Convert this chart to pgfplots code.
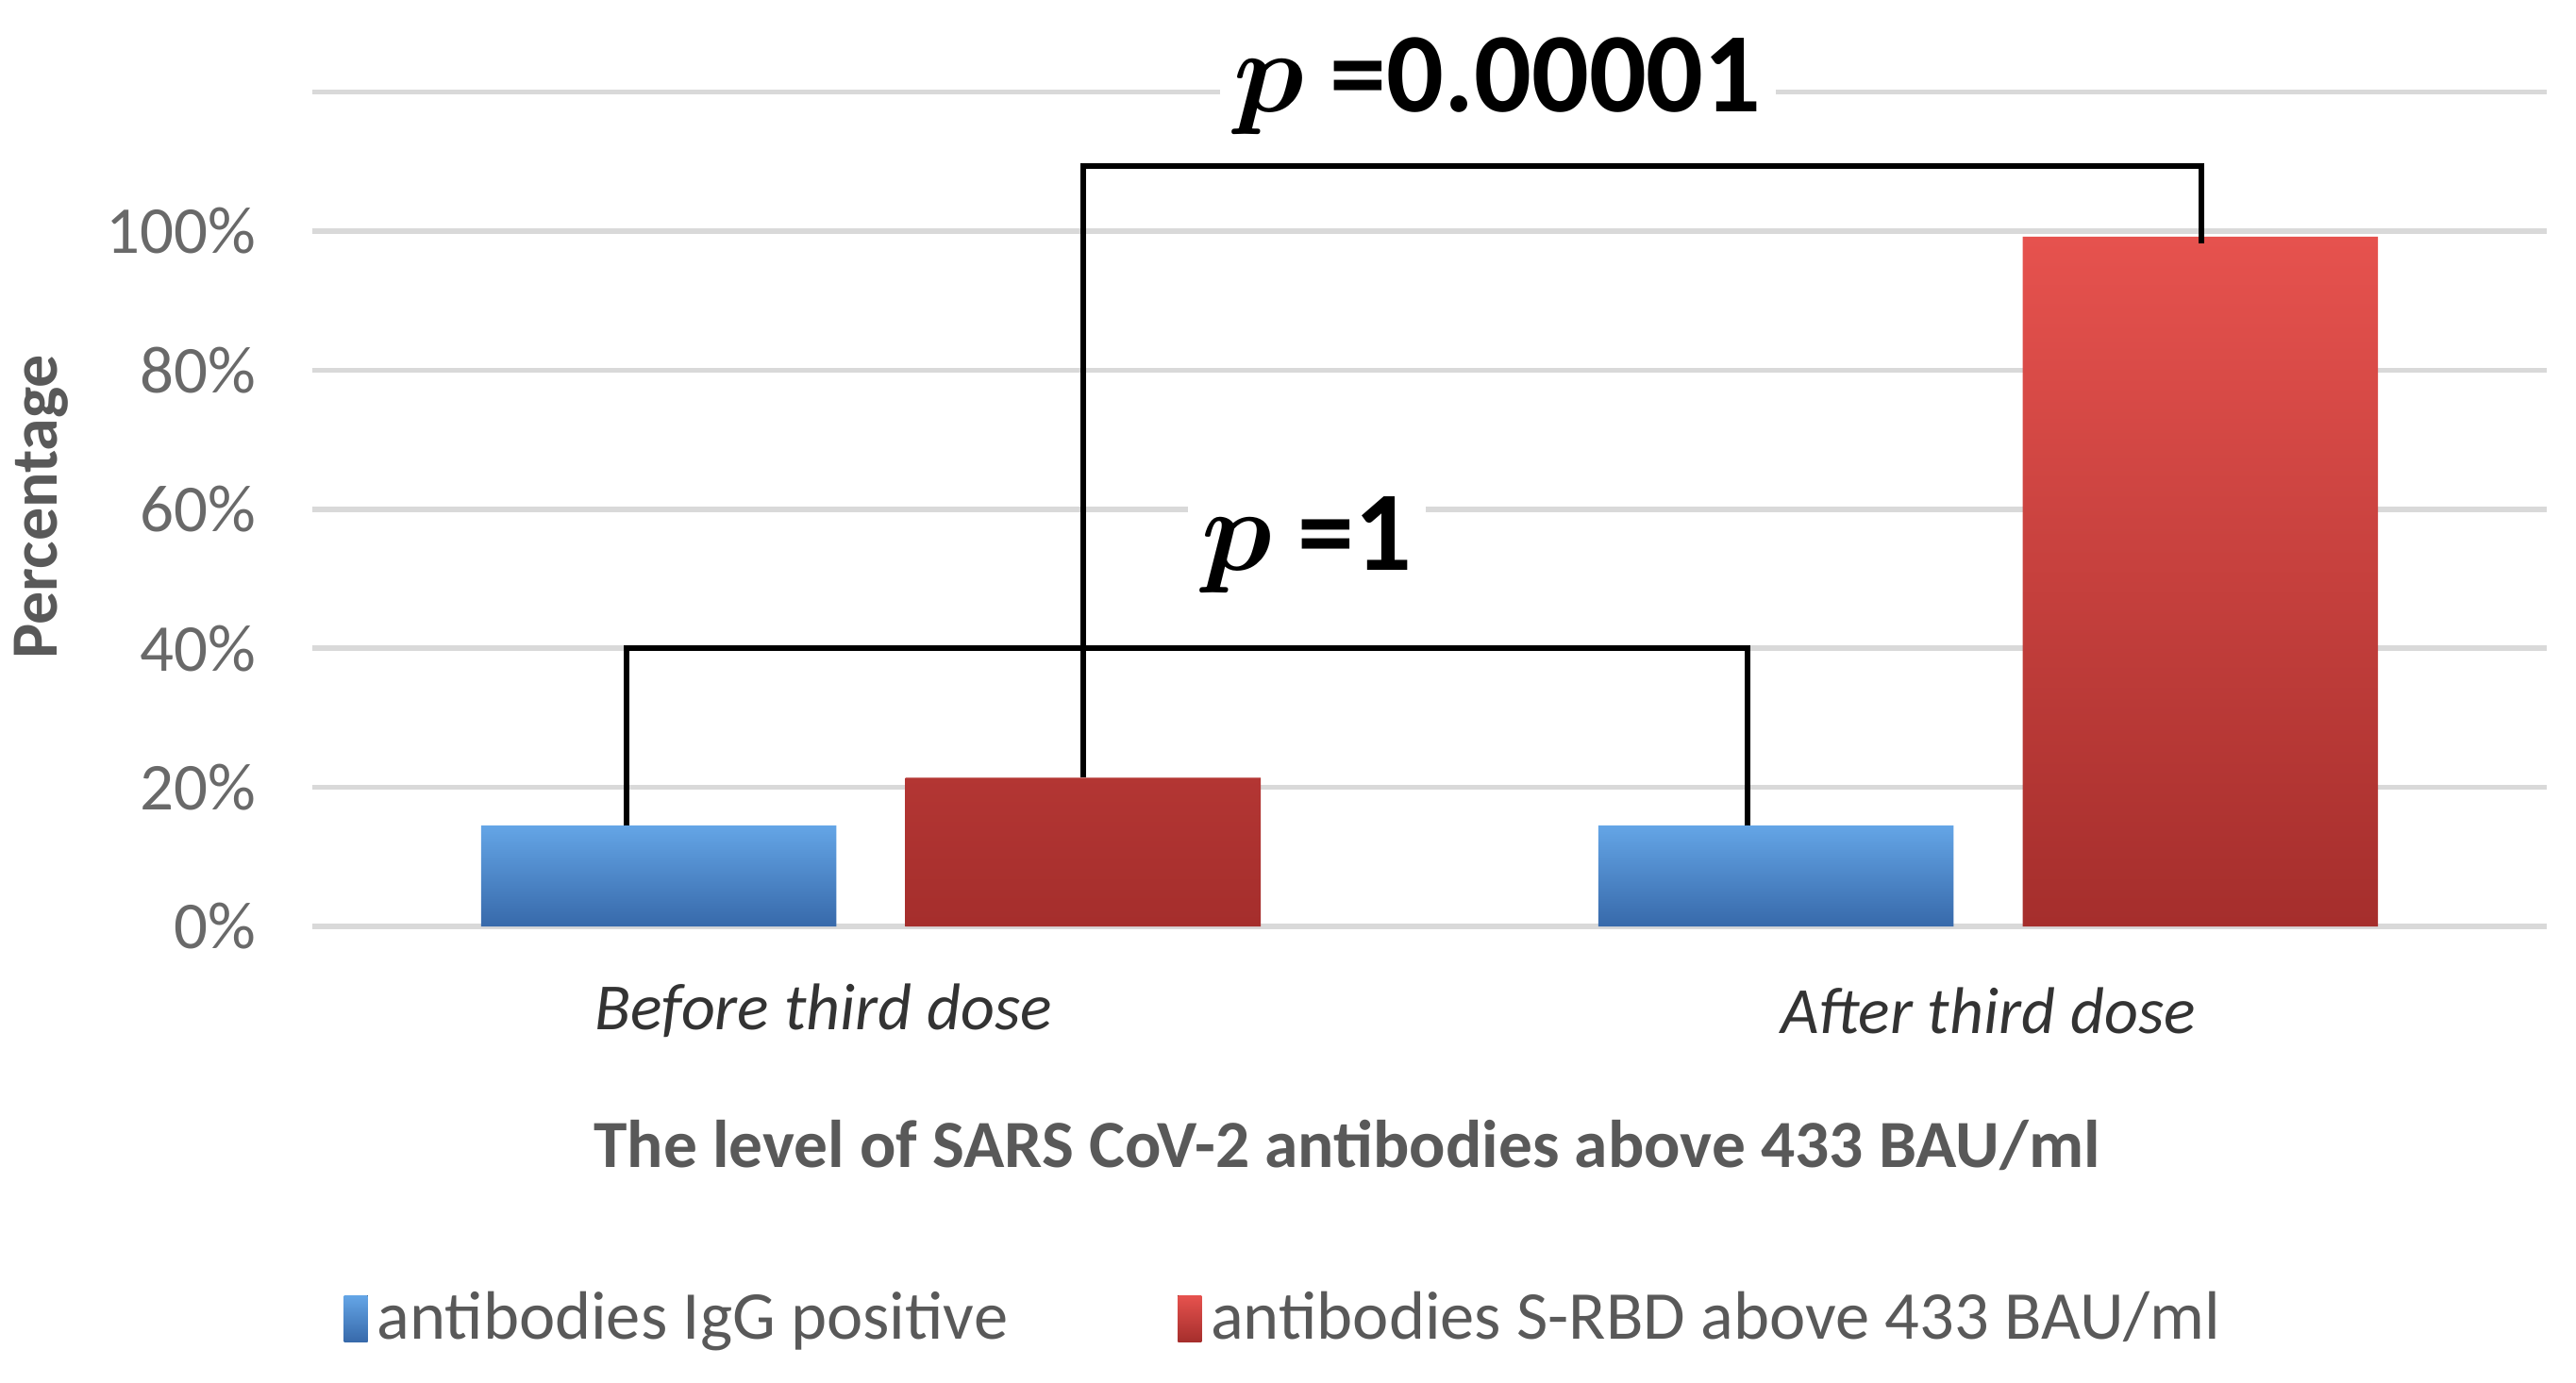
\documentclass[border=0pt]{standalone}
\usepackage{pgfplots}
\pgfplotsset{compat=1.18}
\usepackage{amsmath}
\usepackage{fontspec}
\setmainfont{Carlito}
\usetikzlibrary{calc}

\definecolor{txtgray}{RGB}{89,89,89}
\definecolor{tickgray}{RGB}{105,105,105}
\definecolor{gridgray}{RGB}{217,217,217}
\definecolor{blueTop}{RGB}{100,165,230}
\definecolor{blueMid}{RGB}{70,130,200}
\definecolor{blueBot}{RGB}{55,105,170}
\definecolor{redTop}{RGB}{230,82,78}
\definecolor{redMid}{RGB}{208,65,62}
\definecolor{redBot}{RGB}{165,46,44}

\begin{document}
\begin{tikzpicture}
\begin{axis}[
    name=ax,
    scale only axis,
    width=473.6pt, height=176.9pt,
    xmin=-0.5, xmax=1.5,
    ymin=0, ymax=120,
    clip=false,
    ybar,
    bar width=0.318,
    axis line style={draw=none},
    major tick length=0pt,
    ymajorgrids,
    grid style={gridgray, line width=1.1pt},
    ytick={0,20,40,60,80,100},
    yticklabels={0\%,20\%,40\%,60\%,80\%,100\%},
    extra y ticks={120},
    extra y tick labels={},
    extra y tick style={grid=major},
    yticklabel style={anchor=east, xshift=-8.5pt, font=\fontsize{14.2}{16}\selectfont, text=tickgray},
    xtick={-0.0426,1},
    xticklabels={Before third dose, After third dose},
    xticklabel style={anchor=center, yshift=-17.8pt, font=\fontsize{14}{16}\selectfont\itshape, text=black!80},
    ylabel={Percentage},
    ylabel style={at={(axis description cs:-0.1214,0.503)}, anchor=center, font=\fontsize{14}{16}\selectfont\bfseries, text=txtgray},
    xlabel={The level of SARS CoV-2 antibodies above 433 BAU/ml},
    xlabel style={at={(axis description cs:0.463,-0.262)}, anchor=center, font=\fontsize{14.3}{16}\selectfont\bfseries, text=txtgray},
    legend style={at={(axis description cs:0.0074,-0.470)}, anchor=west, draw=none, fill=none,
        font=\fontsize{14.5}{16}\selectfont, text=txtgray,
        /tikz/every even column/.append style={column sep=34pt}},
    legend columns=2,
    legend cell align=left,
    legend image code/.code={\fill[#1] (0pt,-4.9pt) rectangle (5pt,4.9pt);},
]
\addplot[draw=none, bar shift=-0.19, top color=blueTop, middle color=blueMid, bottom color=blueBot]
    coordinates {(0,14.5) (1,14.5)};
\addplot[draw=none, bar shift=0.19, top color=redTop, middle color=redMid, bottom color=redBot]
    coordinates {(0,21.4) (1,99.2)};
\legend{antibodies IgG positive, antibodies S-RBD above 433 BAU/ml}

% significance brackets
\addplot[sharp plot, black, line width=1.2pt, forget plot]
    coordinates {(-0.219,14.5) (-0.219,40) (0.785,40) (0.785,14.5)};
\addplot[sharp plot, black, line width=1.2pt, forget plot]
    coordinates {(0.19,21.4) (0.19,109.3) (1.191,109.3) (1.191,98.2)};

\node[fill=white, inner sep=3pt, anchor=base, font=\fontsize{24}{28}\selectfont\bfseries]
    at (axis cs:0.561,117.1) {$\boldsymbol{p}$ =0.00001};
\node[fill=white, inner sep=3pt, anchor=base, font=\fontsize{24}{28}\selectfont\bfseries]
    at (axis cs:0.39,51.2) {$\boldsymbol{p}$ =1};
\end{axis}
\pgfresetboundingbox
\path ($(ax.south west)+(-66.2pt,-96.6pt)$) rectangle ($(ax.north east)+(6.2pt,19.5pt)$);
\end{tikzpicture}
\end{document}
